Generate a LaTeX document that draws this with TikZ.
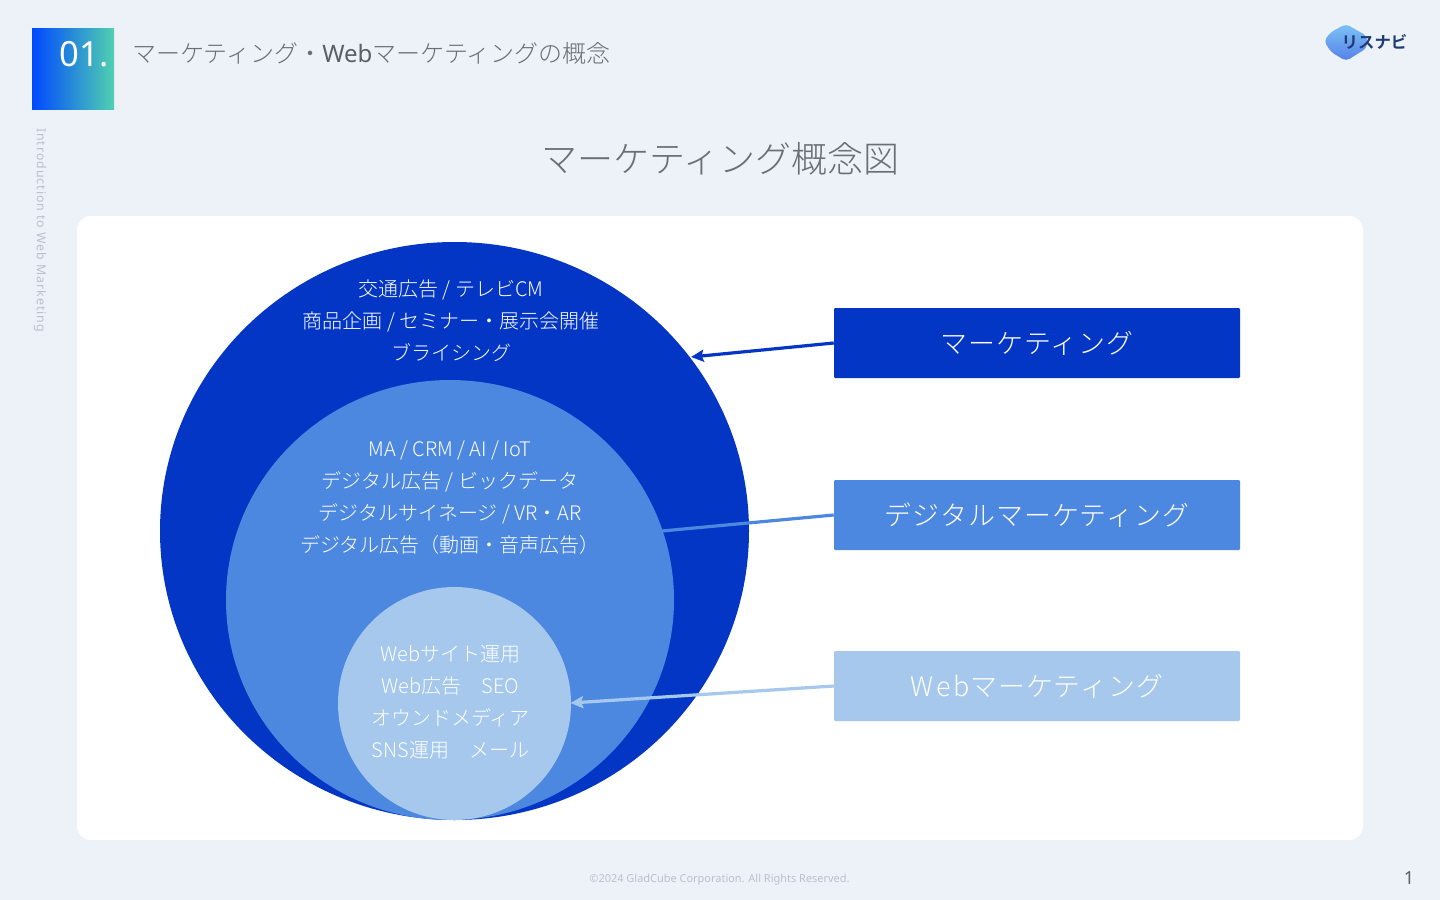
\documentclass[tikz,border=0pt]{standalone}
\usepackage{fontspec}
\usetikzlibrary{arrows.meta,shapes.geometric}
\setmainfont{Noto Sans}
\newfontfamily\jp{Noto Sans CJK JP Light}
\newfontfamily\jpwide[LetterSpace=4]{Noto Sans CJK JP Light}
\newfontfamily\latwide[LetterSpace=10]{Noto Sans CJK JP Light}
\newfontfamily\jpbold{Noto Sans CJK JP Bold}
\newfontfamily\lat[LetterSpace=7.5]{Noto Sans}
\definecolor{bgc}{HTML}{EDF2F9}
\definecolor{darkb}{HTML}{0336C4}
\definecolor{midb}{HTML}{4D88E0}
\definecolor{lightb}{HTML}{A5C8EC}
\definecolor{greyt}{HTML}{5A5F66}
\definecolor{greyl}{HTML}{6A6F76}
\definecolor{faint}{HTML}{BCC0CA}
\definecolor{navy}{HTML}{1F3B73}
\definecolor{gradl}{HTML}{0048FF}
\definecolor{gradr}{HTML}{50D0B0}
\definecolor{hext}{HTML}{7DC2F6}
\definecolor{hexb}{HTML}{5580E8}
\tikzset{
  x=0.75pt,y=-0.75pt,
  disc/.style={shape=ellipse,inner sep=0pt,draw=none},
  tag/.style={inner sep=0pt,minimum width=406*0.75pt,minimum height=70*0.75pt,rounded corners=0.8pt,text=white,font=\jpwide\fontsize{20.2pt}{24pt}\selectfont},
  blurb/.style={align=center,text=white,inner sep=0pt,font=\jp\fontsize{15pt}{24pt}\selectfont},
  linkbase/.style={line width=2.4pt},
  link/.style={linkbase,-{Stealth[length=9.5pt,width=9pt,inset=1.5pt]}},
}
\begin{document}
\begin{tikzpicture}
\useasboundingbox (0,0) rectangle (1440,900);
\fill[bgc] (0,0) rectangle (1440,900);
\shade[left color=gradl,right color=gradr] (32,28) rectangle (114,109.6);
\node[text=white,font=\fontsize{26pt}{30pt}\selectfont,inner sep=0pt] (num) at (84,54) {01.};
\node[anchor=west,inner sep=0pt,text=greyl,font=\jp\fontsize{18pt}{22pt}\selectfont] (head) at (132,53) {マーケティング・{\fontspec{Noto Sans}\color{greyt}Web}マーケティングの概念};
\node[text=greyl,font=\jp\fontsize{27pt}{32pt}\selectfont,inner sep=0pt] (title) at (720.5,159) {マーケティング概念図};
\node[rotate=-90,anchor=west,text=faint,inner sep=0pt,font=\lat\fontsize{9.3pt}{11pt}\selectfont] (side) at (40,128) {Introduction to Web Marketing};
% logo
\shade[top color=hext,bottom color=hexb,rounded corners=3pt] (1346,24) -- (1367,36) -- (1367,48) -- (1346,61) -- (1331,52) -- (1324,41) -- (1331,32) -- cycle;
\node[text=navy,font=\jpbold\fontsize{12.3pt}{14pt}\selectfont,inner sep=0pt] (logo) at (1374.5,42) {リスナビ};
% panel
\fill[white,rounded corners=10.5pt] (77,216) rectangle (1363,840);
% discs
\node[disc,fill=darkb,minimum width=589*0.75pt,minimum height=578*0.75pt] (big) at (454.5,531) {};
\node[tag,fill=darkb] (tm) at (1037,343) {マーケティング};
\node[tag,fill=midb] (td) at (1037,515) {デジタルマーケティング};
\node[tag,fill=lightb] (tw) at (1037,686) {{\latwide Web}マーケティング};
\coordinate (em) at (691,357);
\coordinate (ed) at (662,531);
\coordinate (ew) at (570.5,703);
\draw[link,darkb] (tm.west) -- (em);
\draw[linkbase,midb] (td.west) -- (ed);
\node[disc,fill=midb,minimum width=448*0.75pt,minimum height=440*0.75pt] (mid) at (450,600) {};
\node[disc,fill=lightb,minimum width=233*0.75pt,minimum height=233*0.75pt] (small) at (454.5,703.5) {};
\draw[link,lightb] (tw.west) -- (ew);
\node[blurb] (t1) at (451,321) {交通広告 / テレビCM\\商品企画 / セミナー・展示会開催\\ブライシング};
\node[blurb] (t2) at (450,498) {MA / CRM / AI / IoT\\デジタル広告 / ビックデータ\\デジタルサイネージ / VR・AR\\デジタル広告（動画・音声広告）};
\node[blurb] (t3) at (450.5,702) {Webサイト運用\\Web広告　SEO\\オウンドメディア\\SNS運用　メール};
\node[text=faint,font=\fontsize{8.22pt}{10pt}\selectfont,inner sep=0pt] (copy) at (719.5,880) {©2024 GladCube Corporation. All Rights Reserved.};
\node[text=greyt,font=\fontsize{13.5pt}{16pt}\selectfont,inner sep=0pt] (page) at (1409,878) {1};
\end{tikzpicture}
\end{document}
